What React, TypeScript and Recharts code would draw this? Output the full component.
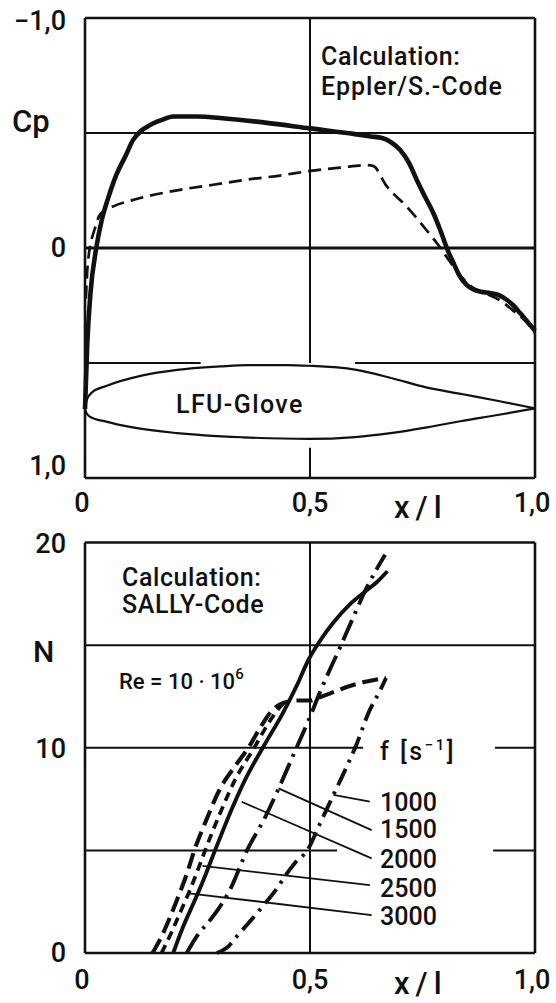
import React from 'react';
import { LineChart, Line, XAxis, YAxis, ReferenceLine } from 'recharts';

const FONT = 'Roboto, "Liberation Sans", Arial, sans-serif';
const WEIGHT = 500;
const INK = '#111';

// ---------- shared x axis ----------
const xTickValues = [0, 0.5, 1];
const xTickText = ['0', '0,5', '1,0'];

// ---------- top chart: pressure distribution ----------
const cpTickValues = [-1, 0, 1];
const cpTickText = ['−1,0', '0', '1,0'];

const cpSolidX = [0, 0.005, 0.012, 0.025, 0.037, 0.052, 0.07, 0.09, 0.107, 0.125, 0.145, 0.17, 0.196, 0.25, 0.3, 0.4, 0.5, 0.6, 0.635, 0.66, 0.68, 0.7, 0.72, 0.737, 0.755, 0.774, 0.79, 0.804, 0.82, 0.833, 0.848, 0.863, 0.88, 0.9, 0.92, 0.937, 0.952, 0.967, 0.983, 1.0];
const cpSolidY = [0.70, 0.42, 0.20, 0.0, -0.12, -0.22, -0.32, -0.40, -0.47, -0.51, -0.535, -0.556, -0.572, -0.572, -0.565, -0.545, -0.52, -0.495, -0.485, -0.478, -0.46, -0.427, -0.37, -0.297, -0.225, -0.152, -0.075, 0.0, 0.07, 0.123, 0.16, 0.18, 0.19, 0.196, 0.205, 0.225, 0.25, 0.283, 0.32, 0.36];

const cpDashedX = [0.002, 0.005, 0.009, 0.015, 0.022, 0.033, 0.063, 0.1, 0.137, 0.211, 0.285, 0.359, 0.433, 0.5, 0.57, 0.626, 0.64, 0.67, 0.715, 0.76, 0.79, 0.804, 0.83, 0.86, 0.893, 0.92, 0.95, 0.98, 1.0];
const cpDashedY = [0.22, 0.1, 0.02, -0.04, -0.085, -0.145, -0.181, -0.205, -0.224, -0.253, -0.275, -0.297, -0.315, -0.335, -0.35, -0.36, -0.357, -0.27, -0.18, -0.075, 0.0, 0.04, 0.11, 0.17, 0.2, 0.225, 0.27, 0.32, 0.37];

const gloveUpperX = [0, 0.004, 0.016, 0.047, 0.126, 0.205, 0.3, 0.363, 0.45, 0.497, 0.6, 0.68, 0.758, 0.84, 0.916, 1.0];
const gloveUpperY = [0.70, 0.66, 0.627, 0.6, 0.555, 0.53, 0.515, 0.509, 0.509, 0.512, 0.529, 0.565, 0.606, 0.636, 0.664, 0.697];
const gloveLowerX = [0, 0.004, 0.012, 0.047, 0.1, 0.205, 0.35, 0.497, 0.6, 0.679, 0.76, 0.837, 0.92, 1.0];
const gloveLowerY = [0.70, 0.72, 0.735, 0.755, 0.778, 0.805, 0.823, 0.83, 0.822, 0.805, 0.78, 0.752, 0.725, 0.697];

// ---------- bottom chart: N factors ----------
const nTickValues = [0, 10, 20];
const nTickText = ['0', '10', '20'];

const n1000X = [0.293, 0.32, 0.337, 0.365, 0.396, 0.425, 0.448, 0.467, 0.494, 0.52, 0.552, 0.58, 0.604, 0.63, 0.656, 0.669];
const n1000Y = [0, 0.35, 0.8, 1.5, 2.3, 3.1, 3.85, 4.4, 5.0, 6.2, 7.7, 9.0, 10.2, 11.7, 12.8, 13.4];
const n1500X = [0.226, 0.248, 0.278, 0.3, 0.322, 0.36, 0.4, 0.43, 0.47, 0.5, 0.522, 0.544, 0.567, 0.589, 0.626, 0.667];
const n1500Y = [0, 0.8, 1.6, 2.26, 3.07, 5.0, 6.6, 8.0, 10.0, 11.5, 12.7, 13.8, 14.9, 16.0, 17.8, 19.4];
const n2000X = [0.196, 0.218, 0.241, 0.263, 0.289, 0.322, 0.356, 0.395, 0.44, 0.47, 0.497, 0.525, 0.552, 0.589, 0.622, 0.65, 0.672];
const n2000Y = [0, 1.28, 2.42, 3.55, 5.0, 6.8, 8.45, 10.0, 11.7, 13.0, 14.3, 15.3, 16.1, 17.0, 17.6, 18.1, 18.6];
const n2500X = [0.17, 0.19, 0.21, 0.23, 0.25, 0.267, 0.3, 0.335, 0.376, 0.405, 0.43, 0.442];
const n2500Y = [0, 0.9, 1.9, 2.9, 4.0, 5.0, 6.8, 8.5, 10.0, 11.1, 11.9, 12.2];
const n3000X = [0.15, 0.17, 0.19, 0.21, 0.227, 0.243, 0.27, 0.3, 0.33, 0.363, 0.39, 0.415, 0.442, 0.47, 0.5, 0.52, 0.545, 0.58, 0.62, 0.669];
const n3000Y = [0, 0.8, 1.8, 2.9, 3.9, 5.0, 6.5, 8.0, 9.0, 10.0, 11.0, 11.8, 12.2, 12.3, 12.3, 12.45, 12.65, 12.95, 13.2, 13.4];

const freqLabels = ['1000', '1500', '2000', '2500', '3000'];
const leaderFromX = [0.633, 0.637, 0.637, 0.633, 0.637];
const leaderFromN = [7.37, 5.99, 4.61, 3.31, 1.85];
const leaderToX = [0.552, 0.43, 0.348, 0.261, 0.231];
const leaderToN = [7.7, 8.02, 7.37, 4.24, 2.91];

const pts = (xs: number[], ys: number[]) => xs.map((x, i) => ({ x, y: ys[i] }));

const textProps = { fontFamily: FONT, fontWeight: WEIGHT, fill: INK } as const;

const makeXTick = (dy: number) => (props: any) => {
  const { x, y, payload } = props;
  const i = xTickValues.indexOf(payload.value);
  const shift = i === 0 ? -3 : i === 2 ? -3 : 0;
  return (
    <text x={x + shift} y={y + dy} textAnchor="middle" fontSize={27} {...textProps}>
      {xTickText[i]}
    </text>
  );
};

const CpTick = (props: any) => {
  const { x, y, payload } = props;
  const i = cpTickValues.indexOf(payload.value);
  const dys = [12, 9, -3];
  return (
    <text x={x - 19} y={y + dys[i]} textAnchor="end" fontSize={27} {...textProps}>
      {cpTickText[i]}
    </text>
  );
};

const NTick = (props: any) => {
  const { x, y, payload } = props;
  const i = nTickValues.indexOf(payload.value);
  const dys = [9, 10, 10];
  return (
    <text x={x - 19} y={y + dys[i]} textAnchor="end" fontSize={27} {...textProps}>
      {nTickText[i]}
    </text>
  );
};

const GRID = 2;
const BOTTOM_TOP = 505; // page y where the lower chart's svg starts

function TopChart() {
  return (
    <LineChart width={556} height={530} margin={{ top: 18, right: 21, left: 0, bottom: 0 }}>
      <XAxis type="number" dataKey="x" domain={[0, 1]} ticks={xTickValues} axisLine={false} tickLine={false} tickSize={0} tickMargin={0} height={52} tick={makeXTick(34)} interval={0} />
      <YAxis type="number" dataKey="y" domain={[-1, 1]} reversed ticks={cpTickValues} axisLine={false} tickLine={false} tickSize={0} tickMargin={0} width={85} tick={CpTick} interval={0} />
      <ReferenceLine y={-0.5} stroke={INK} strokeWidth={GRID} />
      <ReferenceLine y={0} stroke={INK} strokeWidth={3} />
      <ReferenceLine segment={[{ x: 0, y: 0.5 }, { x: 0.257, y: 0.5 }]} stroke={INK} strokeWidth={GRID} />
      <ReferenceLine segment={[{ x: 0.6, y: 0.5 }, { x: 1, y: 0.5 }]} stroke={INK} strokeWidth={GRID} />
      <ReferenceLine segment={[{ x: 0.5, y: -1 }, { x: 0.5, y: 0.5 }]} stroke={INK} strokeWidth={GRID} />
      <ReferenceLine segment={[{ x: 0.5, y: 0.868 }, { x: 0.5, y: 1 }]} stroke={INK} strokeWidth={GRID} />
      <ReferenceLine x={0} stroke={INK} strokeWidth={2.6} />
      <ReferenceLine x={1} stroke={INK} strokeWidth={2.6} />
      <ReferenceLine y={-1} stroke={INK} strokeWidth={2.6} />
      <ReferenceLine y={1} stroke={INK} strokeWidth={2.6} />
      <Line data={pts(gloveUpperX, gloveUpperY)} dataKey="y" type="monotone" stroke={INK} strokeWidth={2.2} dot={false} activeDot={false} isAnimationActive={false} />
      <Line data={pts(gloveLowerX, gloveLowerY)} dataKey="y" type="monotone" stroke={INK} strokeWidth={2.2} dot={false} activeDot={false} isAnimationActive={false} />
      <Line data={pts(cpDashedX, cpDashedY)} dataKey="y" type="monotone" stroke={INK} strokeWidth={2.7} strokeDasharray="13 7" dot={false} activeDot={false} isAnimationActive={false} />
      <Line data={pts(cpSolidX, cpSolidY)} dataKey="y" type="monotone" stroke={INK} strokeWidth={4.6} dot={false} activeDot={false} isAnimationActive={false} />
      <text x={12} y={132} fontSize={31} {...textProps}>Cp</text>
      <text x={321} y={65} fontSize={25} letterSpacing={0.6} {...textProps}>Calculation:</text>
      <text x={321} y={95} fontSize={25} letterSpacing={0.9} {...textProps}>Eppler/S.-Code</text>
      <text x={176} y={413} fontSize={25} letterSpacing={1.4} {...textProps}>LFU-Glove</text>
      <text x={394} y={518} fontSize={31} letterSpacing={6} {...textProps}>x/l</text>
    </LineChart>
  );
}

function BottomChart() {
  const styles = [
    { x: n1000X, y: n1000Y, dash: '18 7 3 7', w: 3.9 },
    { x: n1500X, y: n1500Y, dash: '22 7 3 7', w: 3.9 },
    { x: n2000X, y: n2000Y, dash: undefined, w: 3.9 },
    { x: n2500X, y: n2500Y, dash: '9 6', w: 3.7 },
    { x: n3000X, y: n3000Y, dash: '16 7', w: 4.1 },
  ];
  const o = 530 - BOTTOM_TOP;
  const labelBase = [281, 308, 338, 367, 395].map((v) => v + o);
  return (
    <LineChart width={556} height={1003 - BOTTOM_TOP} margin={{ top: 12.5 + o, right: 21, left: 0, bottom: 0 }}>
      <XAxis type="number" dataKey="x" domain={[0, 1]} ticks={xTickValues} axisLine={false} tickLine={false} tickSize={0} tickMargin={0} height={50} tick={makeXTick(36)} interval={0} />
      <YAxis type="number" dataKey="y" domain={[0, 20]} ticks={nTickValues} axisLine={false} tickLine={false} tickSize={0} tickMargin={0} width={85} tick={NTick} interval={0} />
      <ReferenceLine y={15} stroke={INK} strokeWidth={GRID} />
      <ReferenceLine segment={[{ x: 0, y: 10 }, { x: 0.618, y: 10 }]} stroke={INK} strokeWidth={GRID} />
      <ReferenceLine segment={[{ x: 0.911, y: 10 }, { x: 1, y: 10 }]} stroke={INK} strokeWidth={GRID} />
      <ReferenceLine segment={[{ x: 0, y: 5 }, { x: 0.56, y: 5 }]} stroke={INK} strokeWidth={GRID} />
      <ReferenceLine segment={[{ x: 0.907, y: 5 }, { x: 1, y: 5 }]} stroke={INK} strokeWidth={GRID} />
      <ReferenceLine x={0.5} stroke={INK} strokeWidth={GRID} />
      <ReferenceLine x={0} stroke={INK} strokeWidth={2.6} />
      <ReferenceLine x={1} stroke={INK} strokeWidth={2.6} />
      <ReferenceLine y={0} stroke={INK} strokeWidth={2.6} />
      <ReferenceLine y={20} stroke={INK} strokeWidth={2.6} />
      {freqLabels.map((f, i) => (
        <ReferenceLine key={'l' + f} segment={[{ x: leaderFromX[i], y: leaderFromN[i] }, { x: leaderToX[i], y: leaderToN[i] }]} stroke={INK} strokeWidth={1.8} />
      ))}
      {styles.map((s, i) => (
        <Line key={freqLabels[i]} data={pts(s.x, s.y)} dataKey="y" type="monotone" stroke={INK} strokeWidth={s.w} strokeDasharray={s.dash} dot={false} activeDot={false} isAnimationActive={false} />
      ))}
      <text x={122} y={56 + o} fontSize={25} letterSpacing={0.6} {...textProps}>Calculation:</text>
      <text x={122} y={83 + o} fontSize={25} letterSpacing={0.6} {...textProps}>SALLY-Code</text>
      <text x={119} y={159 + o} fontSize={22} {...textProps}>
        Re = 10 · 10<tspan dy={-10} fontSize={15}>6</tspan>
      </text>
      <text x={380} y={230 + o} fontSize={25} letterSpacing={2.5} {...textProps}>
        f [s<tspan dy={-10} fontSize={15}>−1</tspan><tspan dy={10}>]</tspan>
      </text>
      {freqLabels.map((f, i) => (
        <text key={'t' + f} x={380} y={labelBase[i]} fontSize={25} {...textProps}>{f}</text>
      ))}
      <text x={33} y={132 + o} fontSize={30} {...textProps}>N</text>
      <text x={394} y={464 + o} fontSize={31} letterSpacing={6} {...textProps}>x/l</text>
    </LineChart>
  );
}

export default function App() {
  return (
    <div style={{ position: 'absolute', left: 0, top: 0, width: 556, height: 1003, background: '#fff' }}>
      <div style={{ position: 'absolute', left: 0, top: 0 }}>
        <TopChart />
      </div>
      <div style={{ position: 'absolute', left: 0, top: BOTTOM_TOP }}>
        <BottomChart />
      </div>
    </div>
  );
}
